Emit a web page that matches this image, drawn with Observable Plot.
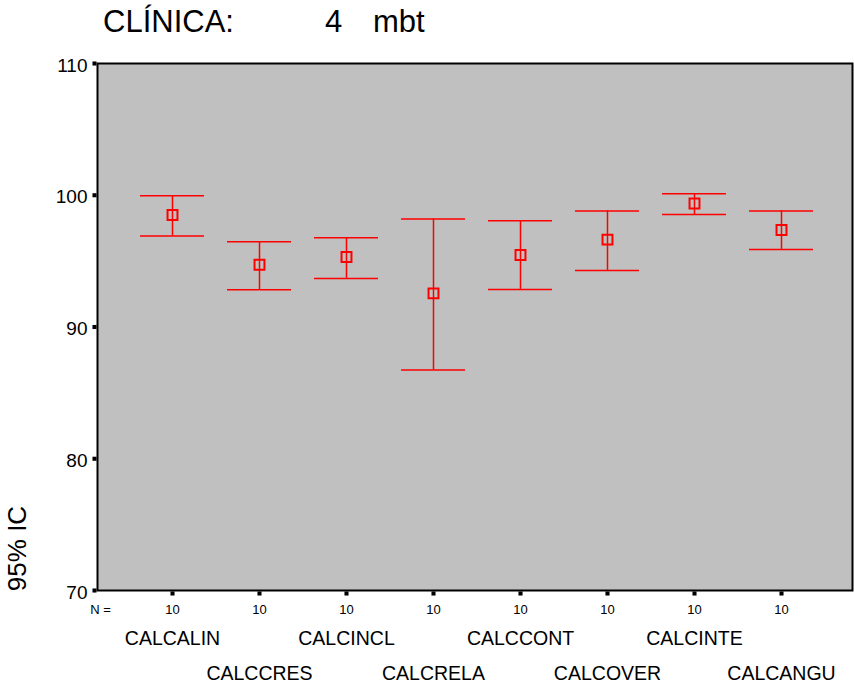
<!DOCTYPE html>
<html>
<head>
<meta charset="utf-8">
<script src="https://cdn.jsdelivr.net/npm/d3@7"></script>
<script src="https://cdn.jsdelivr.net/npm/@observablehq/plot@0.6"></script>
<style>
  body { margin: 0; background: white; }
  #wrap { position: relative; width: 854px; height: 685px; background: white; font-family: "Liberation Sans", Arial, sans-serif; }
  .t { position: absolute; top: 6px; font-size: 31px; line-height: 31px; color: black; white-space: nowrap; }
  #chart { position: absolute; top: 40px; left: 0; }
</style>
</head>
<body>
<div id="wrap">
  <span class="t" style="left:103px">CLÍNICA:</span>
  <span class="t" style="left:325px">4</span>
  <span class="t" style="left:373px">mbt</span>
  <div id="chart"></div>
</div>
<script>
const categories = ["CALCALIN", "CALCCRES", "CALCINCL", "CALCRELA", "CALCCONT", "CALCOVER", "CALCINTE", "CALCANGU"];
const means = [98.50, 94.73, 95.31, 92.55, 95.46, 96.63, 99.38, 97.36];
const lower = [96.91, 92.83, 93.69, 86.73, 92.85, 94.29, 98.53, 95.89];
const upper = [99.97, 96.47, 96.78, 98.20, 98.07, 98.81, 100.12, 98.81];
const nValues = [10, 10, 10, 10, 10, 10, 10, 10];
const yTicks = [70, 80, 90, 100, 110];

const data = categories.map((c, i) => ({cat: c, mean: means[i], lo: lower[i], hi: upper[i], n: nValues[i], row: i % 2}));
const red = "#ff0000";
const font = "'Liberation Sans', Arial, sans-serif";

const chart = Plot.plot({
  width: 854,
  height: 645,
  marginTop: 23,
  marginBottom: 95,
  marginLeft: 97,
  marginRight: 2,
  style: {fontFamily: font, fontSize: "19px", color: "black", background: "white", overflow: "visible"},
  x: {type: "band", domain: categories, paddingInner: 0.27, paddingOuter: 0.439, align: 0.52, axis: null},
  y: {domain: [70, 110], axis: null},
  marks: [
    Plot.frame({fill: "#c0c0c0", stroke: "black", strokeWidth: 2}),
    // y ticks (small squares) and labels
    Plot.dot(yTicks, {y: d => d, frameAnchor: "left", dx: -3, symbol: "square", r: 2.3, fill: "black", stroke: "none"}),
    Plot.text(yTicks, {y: d => d, text: d => String(d), frameAnchor: "left", dx: -10, dy: 2, textAnchor: "end", lineAnchor: "middle", fontSize: 19, fill: "black"}),
    // x ticks (small squares)
    Plot.dot(categories, {x: d => d, frameAnchor: "bottom", dy: 3, symbol: "square", r: 2.3, fill: "black", stroke: "none"}),
    // error bars
    Plot.ruleX(data, {x: "cat", y1: "lo", y2: "hi", stroke: red, strokeWidth: 1.5}),
    Plot.tickY(data, {x: "cat", y: "hi", stroke: red, strokeWidth: 1.5}),
    Plot.tickY(data, {x: "cat", y: "lo", stroke: red, strokeWidth: 1.5}),
    Plot.dot(data, {x: "cat", y: "mean", symbol: "square", r: 5.6, stroke: red, strokeWidth: 2, fill: "none"}),
    // N labels
    Plot.text(data, {x: "cat", text: d => String(d.n), frameAnchor: "bottom", dy: 19.5, textAnchor: "middle", lineAnchor: "middle", fontSize: 13, fill: "black"}),
    Plot.text(["N ="], {frameAnchor: "bottom-left", dx: 3, dy: 19.5, textAnchor: "middle", lineAnchor: "middle", fontSize: 13, fill: "black"}),
    // category labels, alternating rows
    Plot.text(data.filter(d => d.row === 0), {x: "cat", text: "cat", frameAnchor: "bottom", dy: 48, textAnchor: "middle", lineAnchor: "middle", fontSize: 19.5, fill: "black"}),
    Plot.text(data.filter(d => d.row === 1), {x: "cat", text: "cat", frameAnchor: "bottom", dy: 83.5, textAnchor: "middle", lineAnchor: "middle", fontSize: 19.5, fill: "black"}),
    // y axis title
    Plot.text(["95% IC"], {frameAnchor: "bottom-left", rotate: -90, dx: -79.5, dy: -42, textAnchor: "middle", lineAnchor: "middle", fontSize: 26, fill: "black"})
  ]
});
document.getElementById("chart").appendChild(chart);
</script>
</body>
</html>
